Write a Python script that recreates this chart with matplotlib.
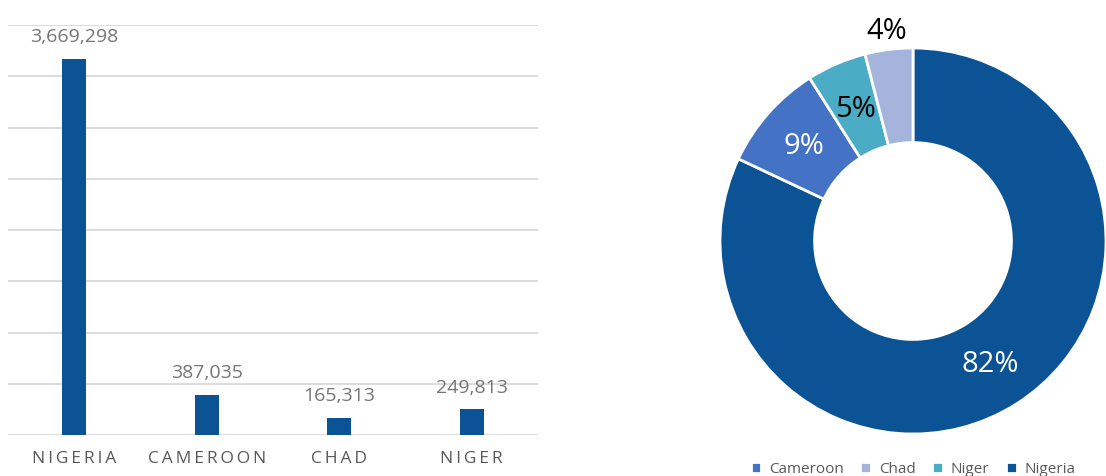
import numpy as np
import matplotlib.pyplot as plt

plt.rcParams['font.family'] = ['Open Sans', 'DejaVu Sans']

countries = ["NIGERIA", "CAMEROON", "CHAD", "NIGER"]
counts = [3669298, 387035, 165313, 249813]

pie_names = ["Nigeria", "Cameroon", "Niger", "Chad"]
pie_pct = [82, 9, 5, 4]
pie_colors = ["#0b5394", "#4472c4", "#4bacc6", "#a5b4db"]
pct_colors = ["white", "white", "black", "black"]
legend_order = ["Cameroon", "Chad", "Niger", "Nigeria"]

W, H = 1106, 477
fig = plt.figure(figsize=(W / 100, H / 100), dpi=100)

# bar chart
ax = fig.add_axes([8 / W, (H - 436) / H, 530 / W, 410 / H])
x = np.arange(len(countries))
ax.bar(x, counts, width=0.18, color="#0b5394", zorder=3)
ax.set_xlim(-0.5, len(countries) - 0.5)
ax.set_ylim(0, 4000000)
ax.set_yticks(np.arange(0, 4000001, 500000))
ax.yaxis.grid(True, color="#d9d9d9", linewidth=1.3, zorder=0)
ax.tick_params(axis="y", left=False, labelleft=False)
ax.tick_params(axis="x", length=0, pad=11, labelsize=12.5, labelcolor="#595959")
ax.set_xticks(x)
# wide letter spacing as in the original
ax.set_xticklabels(["\u2009".join(c) for c in countries])
for s in ax.spines.values():
    s.set_visible(False)
for xi, v in zip(x, counts):
    ax.annotate(f"{v:,}", (xi, v), xytext=(0, 10), textcoords="offset points",
                ha="center", va="bottom", fontsize=14, color="#757575")

# donut chart
ax2 = fig.add_axes([720 / W, (H - 435) / H, 386 / W, 386 / H])
wedges, _ = ax2.pie(pie_pct, colors=pie_colors, startangle=90, counterclock=False,
                    radius=1, wedgeprops=dict(width=0.49, edgecolor="white", linewidth=2))
ax2.set_xlim(-1, 1)
ax2.set_ylim(-1, 1)
ax2.set_aspect("equal")
ax2.axis("off")
for w, p, c in zip(wedges, pie_pct, pct_colors):
    ang = np.deg2rad((w.theta1 + w.theta2) / 2)
    r = 1.1 if p < 5 else 0.75
    ax2.text(r * np.cos(ang), r * np.sin(ang), f"{p}%", ha="center", va="center",
             fontsize=21, color=c, clip_on=False)

handles = [wedges[pie_names.index(n)] for n in legend_order]
fig.legend(handles, legend_order, loc="center", bbox_to_anchor=(913 / W, (H - 470) / H),
           ncol=4, frameon=False, fontsize=11, labelcolor="#595959",
           handlelength=0.7, handleheight=0.7, handletextpad=0.5, columnspacing=1.1)

fig.savefig("out.png", dpi=100)
